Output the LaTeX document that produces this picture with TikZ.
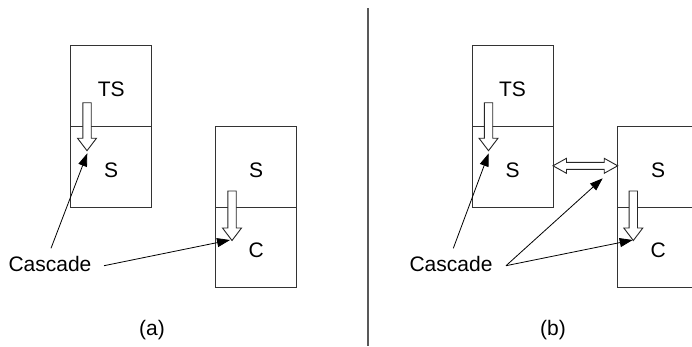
\documentclass[tikz,border=0pt]{standalone}
\usepackage{fontspec}
\setmainfont{Liberation Sans}
\usetikzlibrary{arrows.meta}
\tikzset{
  cell/.style={draw=black!80, line width=0.9pt, minimum width=81pt, minimum height=80.5pt,
               inner sep=0pt, outer sep=0pt, anchor=north west},
  lbl/.style={font=\fontsize{21}{25}\selectfont, inner sep=0pt, anchor=base},
  hollow/.style={draw=black!85, fill=white, line width=0.9pt, line join=miter},
  pointer/.style={draw=black, line width=0.8pt, -{Triangle[length=13pt,width=9pt]}},
  divider/.style={draw=black!65, line width=1.6pt}
}
\newcommand\hdown[3]{% x, top, tip
  \draw[hollow] (#1-4.2,#2) -- (#1+4.2,#2) -- (#1+4.2,#3-12.5) -- (#1+9.5,#3-12.5)
    -- (#1,#3) -- (#1-9.5,#3-12.5) -- (#1-4.2,#3-12.5) -- cycle;}
\begin{document}
\begin{tikzpicture}[x=1pt,y=-1pt]
\clip (0,0) rectangle (692,346);
% divider
\coordinate (dtop) at (367.7,8);
\coordinate (dbot) at (367.7,346);
\draw[divider] (dtop) -- (dbot);
% ---------- panel (a)
\node[cell] (aTS) at (70.7,45.7) {};
\node[cell] (aS) at (70.7,126.7) {};
\node[cell] (aS2) at (215.7,126.7) {};
\node[cell] (aC) at (215.7,207.2) {};
\node[lbl] (tTSa) at (111.2,96.7) {TS};
\node[lbl] (tSa) at (111.2,177) {S};
\node[lbl] (tS2a) at (256.2,177) {S};
\node[lbl] (tCa) at (256.2,257) {C};
\hdown{87}{102.7}{150.7}
\hdown{232}{191}{240.5}
\node[lbl] (casA) at (50,271.7) {Cascade};
\coordinate (sa1) at (51,248.3);
\coordinate (ea1) at (87.3,153.3);
\coordinate (sa2) at (104,265.7);
\coordinate (ea2) at (230,240);
\draw[pointer] (sa1) -- (ea1);
\draw[pointer] (sa2) -- (ea2);
\node[lbl] (capA) at (152,335.5) {(a)};
% ---------- panel (b)
\node[cell] (bTS) at (472,45.7) {};
\node[cell] (bS) at (472,126.7) {};
\node[cell] (bS2) at (617.7,126.7) {};
\node[cell] (bC) at (617.7,207.2) {};
\node[lbl] (tTSb) at (512.5,96.7) {TS};
\node[lbl] (tSb) at (512.5,177) {S};
\node[lbl] (tS2b) at (658.2,177) {S};
\node[lbl] (tCb) at (658.2,257) {C};
\hdown{488.5}{102.7}{150.7}
\hdown{633.3}{191}{240.5}
% double hollow arrow between S cells
\draw[hollow] (553,165.8) -- (566.5,158.3) -- (566.5,162.3) -- (604.2,162.3) -- (604.2,158.3)
  -- (617.7,165.8) -- (604.2,173.3) -- (604.2,169.3) -- (566.5,169.3) -- (566.5,173.3) -- cycle;
\node[lbl] (casB) at (451,271.7) {Cascade};
\coordinate (sb1) at (453.3,248.3);
\coordinate (eb1) at (488.7,153.3);
\coordinate (sb2) at (506,265.7);
\coordinate (eb2) at (602.7,178.3);
\coordinate (eb3) at (632.7,240);
\draw[pointer] (sb1) -- (eb1);
\draw[pointer] (sb2) -- (eb2);
\draw[pointer] (sb2) -- (eb3);
\node[lbl] (capB) at (553,335.5) {(b)};
\end{tikzpicture}
\end{document}
